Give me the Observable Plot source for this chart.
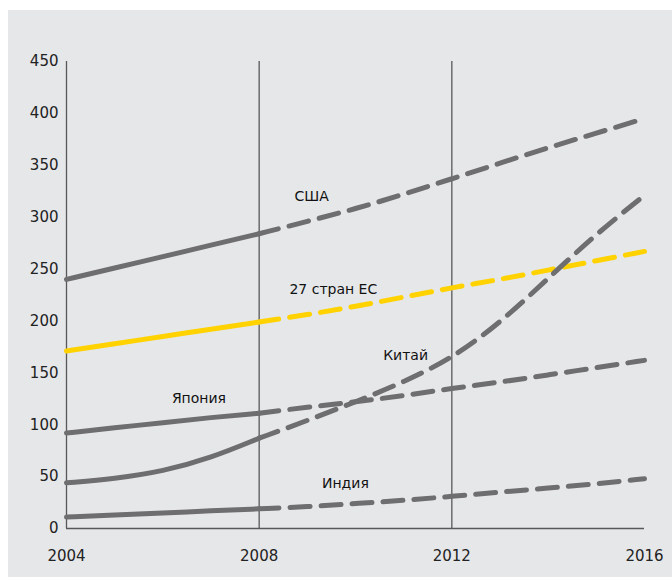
<!DOCTYPE html>
<html><head><meta charset="utf-8">
<script src="https://cdn.jsdelivr.net/npm/d3@7"></script>
<script src="https://cdn.jsdelivr.net/npm/@observablehq/plot@0.6"></script>
<style>
body{margin:0;background:#fff;}
#wrap{position:absolute;left:8px;top:10px;width:664px;height:567px;background:#e6e7e9;}
svg{font-family:"DejaVu Sans",Verdana,sans-serif;}
</style></head>
<body><div id="wrap"></div>
<script>
const years = [2004, 2005, 2006, 2007, 2008, 2009, 2010, 2011, 2012, 2013, 2014, 2015, 2016];
const usa   = [240, 251, 262, 273, 284, 296, 308, 322, 337, 352, 367, 381, 395];
const eu    = [171, 178, 185, 192, 199, 206, 214, 223, 232, 240, 249, 258, 267];
const china = [44, 48, 55, 68, 87, 104, 122, 141, 164, 198, 241, 284, 321];
const japan = [92, 97, 102, 107, 111, 117, 122, 128, 135, 141, 148, 155, 162];
const india = [11, 13, 15, 17, 19, 21, 24, 27, 31, 35, 39, 43, 48];
const seriesNames = ["США", "27 стран ЕС", "Китай", "Япония", "Индия"];
const seriesValues = [usa, eu, china, japan, india];
const seriesColors = ["#6e6e70", "#ffd200", "#6e6e70", "#6e6e70", "#6e6e70"];
const labelYears = [2009.09, 2009.54, 2011.04, 2006.75, 2009.79];
const labelValues = [320, 230, 167, 125, 43];
const yTicks = [0, 50, 100, 150, 200, 250, 300, 350, 400, 450];
const xTicks = [2004, 2008, 2012, 2016];
const rules = [2008, 2012];

const rows = [];
seriesNames.forEach((s, i) => years.forEach((y, j) => rows.push({series: s, year: y, value: seriesValues[i][j]})));
const labels = seriesNames.map((s, i) => ({series: s, year: labelYears[i], value: labelValues[i]}));

const lineMarks = [];
seriesNames.forEach((s, i) => {
  const d = rows.filter(r => r.series === s);
  lineMarks.push(Plot.line(d.filter(r => r.year <= 2008), {x: "year", y: "value", stroke: seriesColors[i], strokeWidth: 5, curve: "basis"}));
  lineMarks.push(Plot.line(d.filter(r => r.year >= 2008), {x: "year", y: "value", stroke: seriesColors[i], strokeWidth: 5, strokeDasharray: "20,11", curve: "basis"}));
});

const chart = Plot.plot({
  width: 664, height: 567,
  marginLeft: 58, marginRight: 28, marginTop: 51, marginBottom: 49,
  style: {background: "transparent", fontSize: "15px", color: "#222"},
  x: {domain: [2004, 2016]},
  y: {domain: [0, 450]},
  marks: [
    Plot.ruleX(rules, {stroke: "#58585a", strokeWidth: 1.3}),
    Plot.ruleX([2004], {stroke: "#58585a", strokeWidth: 1.3}),
    Plot.ruleY([0], {stroke: "#58585a", strokeWidth: 1.3}),
    Plot.axisY({ticks: yTicks, tickSize: 0, tickPadding: 8, label: null, fontSize: 15}),
    Plot.axisX({ticks: xTicks, tickSize: 0, tickPadding: 22, label: null, tickFormat: d => String(d), fontSize: 15}),
    ...lineMarks,
    Plot.text(labels, {x: "year", y: "value", text: "series", fontSize: 14, fill: "#111"})
  ]
});
document.getElementById("wrap").appendChild(chart);
</script></body></html>
